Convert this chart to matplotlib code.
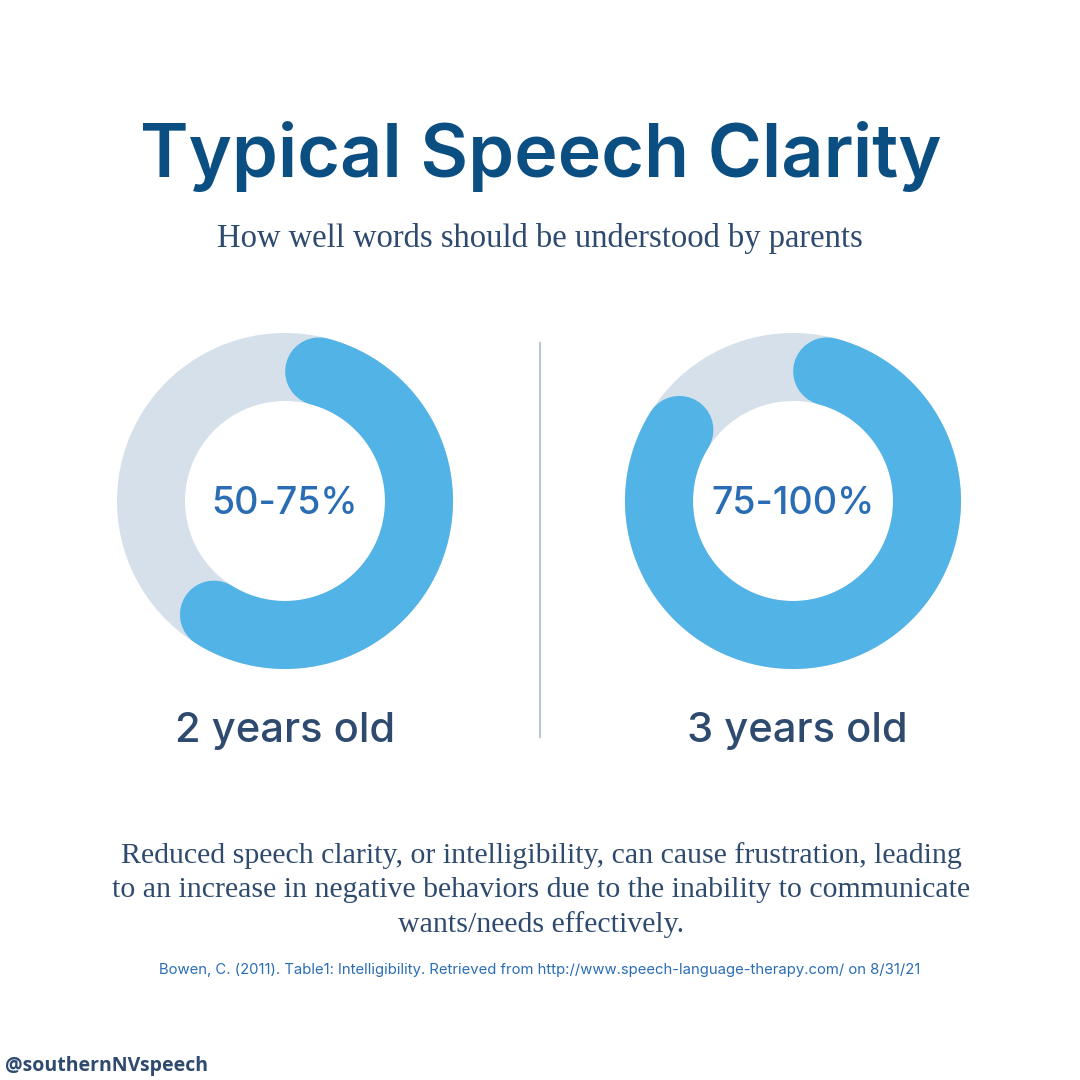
import numpy as np
import matplotlib
matplotlib.use('Agg')
import matplotlib.pyplot as plt
from matplotlib.patches import Wedge

# chart values (arc start / end as fraction of the full ring, clockwise from top)
ages = ['2 years old', '3 years old']
ranges = ['50-75%', '75-100%']
arc_start = [0.041, 0.041]
arc_end = [0.589, 0.839]

title = 'Typical Speech Clarity'
subtitle = 'How well words should be understood by parents'
body = ('Reduced speech clarity, or intelligibility, can cause frustration, leading\n'
        'to an increase in negative behaviors due to the inability to communicate\n'
        'wants/needs effectively.')
citation = 'Bowen, C. (2011). Table1: Intelligibility. Retrieved from http://www.speech-language-therapy.com/ on 8/31/21'
handle = '@southernNVspeech'

blue = '#52b3e6'
ring_grey = '#d6e0eb'
navy = '#0b4f82'
slate = '#2e4a6e'
pct_blue = '#2a6db5'

fig = plt.figure(figsize=(10.8, 10.8), dpi=100)
ax = fig.add_axes([0, 0, 1, 1])
ax.set_xlim(0, 1080)
ax.set_ylim(1080, 0)
ax.axis('off')

centers = [(285, 501), (793, 501)]
r_out = 168
r_w = 68
r_mid = r_out - r_w / 2
ring_lw = r_w * 72 / 100  # ring width in points

for i, (cx, cy) in enumerate(centers):
    ax.add_patch(Wedge((cx, cy), r_out, 0, 360, width=r_w, color=ring_grey, lw=0))
    t = np.linspace(arc_start[i], arc_end[i], 300) * 2 * np.pi
    ax.plot(cx + r_mid * np.sin(t), cy - r_mid * np.cos(t), color=blue, lw=ring_lw,
            solid_capstyle='round')
    ax.text(cx, cy + 3, ranges[i], ha='center', va='center', fontsize=27,
            family='Inter', weight='medium', color=pct_blue)
    ax.text(cx + 4 * i, 731, ages[i], ha='center', va='center', fontsize=30,
            family='Inter', weight='medium', color=slate)

ax.plot([540, 540], [343, 737], color='#b8c6d6', lw=1.5)

ax.text(541, 156, title, ha='center', va='center', fontsize=53,
        family='Inter', weight='semibold', color=navy)
ax.text(540, 238, subtitle, ha='center', va='center', fontsize=23.5,
        family='Liberation Serif', color=slate)
ax.text(541, 890, body, ha='center', va='center', fontsize=21.5,
        family='Liberation Serif', color=slate, linespacing=1.4)
ax.text(540, 970, citation, ha='center', va='center', fontsize=10.7,
        family='Inter', color=pct_blue)
ax.text(5, 1066, handle, ha='left', va='center', fontsize=14,
        family='Open Sans', weight='bold', color=slate)

fig.savefig('out.png', dpi=100, facecolor='white')
